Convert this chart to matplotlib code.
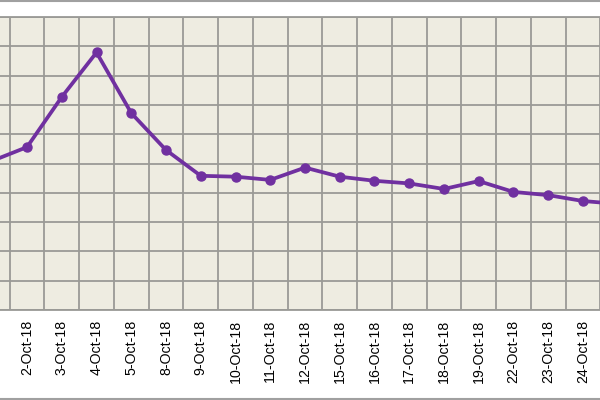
import matplotlib
matplotlib.use("Agg")
import matplotlib.pyplot as plt
from matplotlib.lines import Line2D
import numpy as np

dates = ["1-Oct-18", "2-Oct-18", "3-Oct-18", "4-Oct-18", "5-Oct-18", "8-Oct-18",
         "9-Oct-18", "10-Oct-18", "11-Oct-18", "12-Oct-18", "15-Oct-18", "16-Oct-18",
         "17-Oct-18", "18-Oct-18", "19-Oct-18", "22-Oct-18", "23-Oct-18", "24-Oct-18",
         "25-Oct-18"]
values = [5.09, 5.56, 7.27, 8.79, 6.72, 5.46, 4.58, 4.55, 4.44, 4.86, 4.55, 4.41,
          4.32, 4.13, 4.40, 4.03, 3.92, 3.72, 3.62]

W, H = 600, 400
fig = plt.figure(figsize=(6, 4), dpi=100)
fig.patch.set_facecolor("white")

# axes extends beyond figure (cropped view)
left_px = -25.1
right_px = 635.1
top_px = 17.0
bottom_px = 310.0
ax = fig.add_axes([left_px / W, (H - bottom_px) / H,
                   (right_px - left_px) / W, (bottom_px - top_px) / H])
ax.set_facecolor("#EEECE1")

x = np.arange(len(dates))
ax.plot(x, values, color="#7030A0", lw=2.7, marker="o", ms=6.5,
        markerfacecolor="#7030A0", markeredgecolor="#7030A0", zorder=3)

ax.set_xlim(-0.5, len(dates) - 0.5)
ax.set_ylim(0, 10)
ax.set_yticks(np.arange(0, 11, 1))
ax.set_yticklabels([])
ax.set_xticks(x)
labels = ax.set_xticklabels(dates, rotation=90, fontsize=10.2, family="Liberation Sans",
                            va="top", ha="center")
# labels of the categories cut by the crop are not visible in the view
labels[0].set_visible(False)
labels[-1].set_visible(False)
ax.set_xticks(np.arange(-0.5, len(dates), 1), minor=True)
ax.tick_params(axis="both", which="both", length=0)
ax.tick_params(axis="x", which="major", pad=7)

ax.grid(True, which="major", axis="y", color="#9A9A96", lw=1.3, zorder=1)
ax.grid(True, which="minor", axis="x", color="#9A9A96", lw=1.3, zorder=1)
ax.set_axisbelow(True)
for s in ax.spines.values():
    s.set_color("#9A9A96")
    s.set_linewidth(1.3)

# outer chart border (top and bottom visible in crop)
fig.add_artist(Line2D([0, 1], [1 - 0.5 / H, 1 - 0.5 / H], color="#A0A0A0", lw=1.5,
                      transform=fig.transFigure))
fig.add_artist(Line2D([0, 1], [1.5 / H, 1.5 / H], color="#A0A0A0", lw=1.5,
                      transform=fig.transFigure))

fig.savefig("out.png", dpi=100)
